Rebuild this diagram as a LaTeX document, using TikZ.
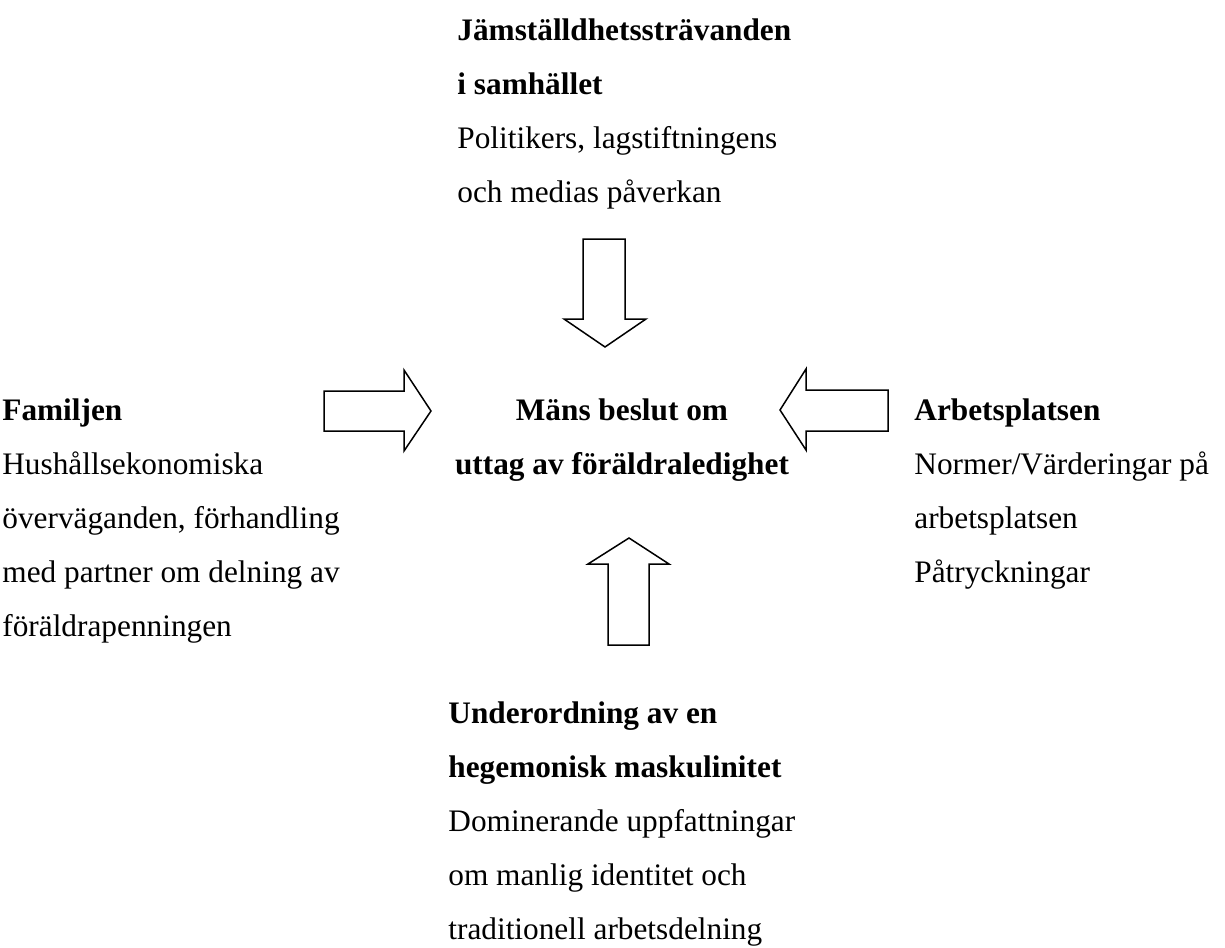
\documentclass[tikz,border=0pt]{standalone}
\usepackage{fontspec}
\setmainfont{Liberation Serif}
\usepackage{tikz}
\usetikzlibrary{positioning}

\begin{document}
\begin{tikzpicture}[
    x=0.5pt, y=-0.5pt,
    factor/.style={inner sep=0pt, anchor=base west, align=left, font=\fontsize{15.65}{27}\selectfont},
    decision/.style={inner sep=0pt, anchor=base, align=center, font=\fontsize{15.65}{27}\selectfont\bfseries},
    blockarrow/.style={draw=black, line width=0.75pt, fill=white, line join=miter}
]
    \useasboundingbox (0,0) rectangle (1225,947);

    % influences round the decision (placed at the baseline of the last line)
    \node[factor] (samhalle) at (457,202) {\textbf{Jämställdhetssträvanden}\\\textbf{i samhället}\\Politikers, lagstiftningens\\och medias påverkan};
    \node[factor] (familj) at (2,636) {\textbf{Familjen}\\Hushållsekonomiska\\överväganden, förhandling\\med partner om delning av\\föräldrapenningen};
    \node[decision] (beslut) at (622,474) {Mäns beslut om\\uttag av föräldraledighet};
    \node[factor] (arbete) at (914,582) {\textbf{Arbetsplatsen}\\Normer/Värderingar på\\arbetsplatsen\\Påtryckningar};
    \node[factor] (maskulinitet) at (448,939) {\textbf{Underordning av en}\\\textbf{hegemonisk maskulinitet}\\Dominerande uppfattningar\\om manlig identitet och\\traditionell arbetsdelning};

    % block arrows
    \draw[blockarrow] (583,239) -- (625,239) -- (625,319) -- (646,319) -- (605,347) -- (564,319) -- (583,319) -- cycle;
    \draw[blockarrow] (324,391) -- (404,391) -- (404,370) -- (431,411) -- (404,451) -- (404,431) -- (324,431) -- cycle;
    \draw[blockarrow] (888,390) -- (806,390) -- (806,369) -- (780,410) -- (806,450) -- (806,431) -- (888,431) -- cycle;
    \draw[blockarrow] (608,645) -- (608,564) -- (588,564) -- (629,538) -- (669,564) -- (649,564) -- (649,645) -- cycle;
\end{tikzpicture}
\end{document}
